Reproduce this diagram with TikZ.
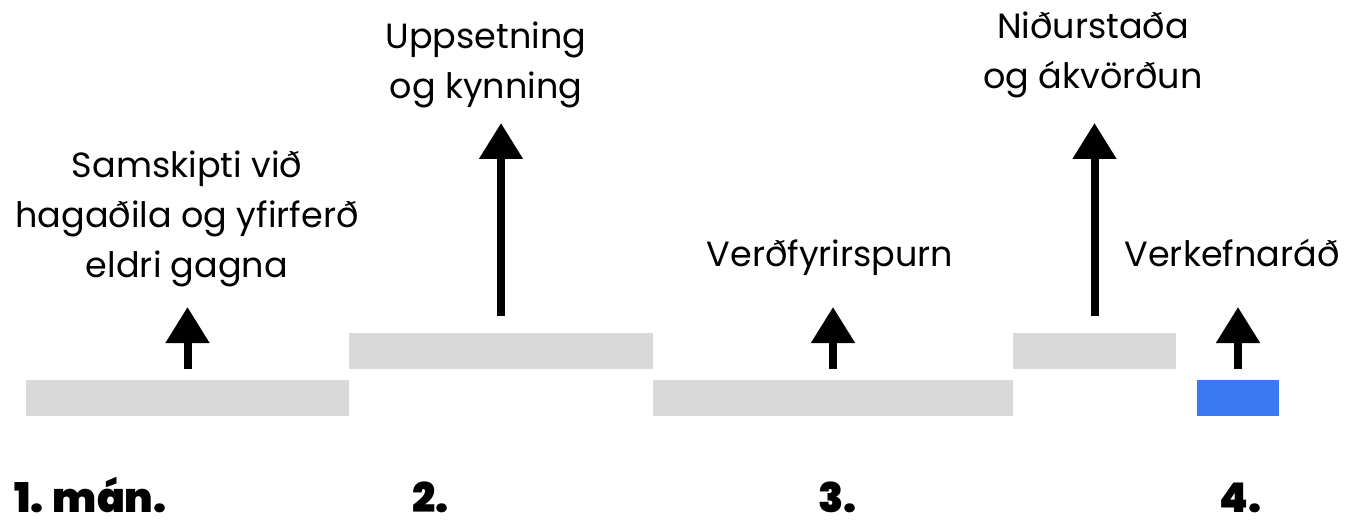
\documentclass[tikz,border=0pt]{standalone}
\usepackage{fontspec}
\setmainfont{Poppins}
\newfontfamily\heavyfont{Poppins Black}
\usetikzlibrary{arrows.meta}
\definecolor{bargray}{HTML}{D9D9D9}
\definecolor{barblue}{HTML}{3B78F3}
\tikzset{
  bar/.style={fill=bargray, inner sep=0pt, outer sep=0pt, minimum height=36pt},
  stage/.style={align=center, anchor=base, inner sep=0pt, font=\fontsize{35}{50}\selectfont},
  month/.style={anchor=base west, inner sep=0pt, font=\heavyfont\fontsize{41}{41}\selectfont},
  uparrow/.style={line width=8pt, -{Triangle[width=42pt,length=36pt]}}
}
\begin{document}
\begin{tikzpicture}[x=1pt,y=-1pt]
\useasboundingbox (0,0) rectangle (1346,521);
% bars
\node[bar, minimum width=323pt] (b1) at (187.5,398) {};
\node[bar, minimum width=304pt] (b2) at (501,351) {};
\node[bar, minimum width=360pt] (b3) at (833,398) {};
\node[bar, minimum width=163pt] (b4) at (1094.5,351) {};
\node[bar, minimum width=82pt, fill=barblue] (b5) at (1238,398) {};
% labels (base = last line)
\node[stage] (l1) at (187,277) {Samskipti við\\hagaðila og yfirferð\\eldri gagna};
\node[stage] (l2) at (486,99) {Uppsetning\\og kynning};
\node[stage] (l3) at (830,267) {Verðfyrirspurn};
\node[stage] (l4) at (1093,89) {Niðurstaða\\og ákvörðun};
\node[stage] (l5) at (1232,267) {Verkefnaráð};
% arrows
\draw[uparrow] ([yshift=11pt]b1.north) -- ([yshift=73pt]b1.north);
\draw[uparrow] ([yshift=17pt]b2.north) -- ([yshift=210pt]b2.north);
\draw[uparrow] ([yshift=11pt]b3.north) -- ([yshift=73pt]b3.north);
\draw[uparrow] ([yshift=17pt]b4.north) -- ([yshift=210pt]b4.north);
\draw[uparrow] ([yshift=11pt]b5.north) -- ([yshift=73pt]b5.north);
% months
\node[month] (m1) at (14,512) {1. mán.};
\node[month] (m2) at (412,512) {2.};
\node[month] (m3) at (818,512) {3.};
\node[month] (m4) at (1219,512) {4.};
\end{tikzpicture}
\end{document}
